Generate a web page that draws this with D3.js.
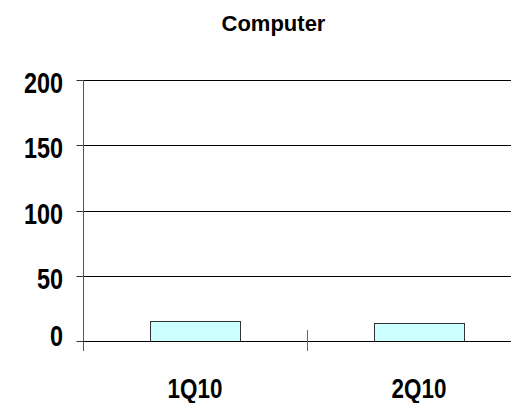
<!DOCTYPE html>
<html>
<head>
<meta charset="utf-8">
<script src="https://cdn.jsdelivr.net/npm/d3@7/dist/d3.min.js"></script>
<style>
  html, body { margin: 0; padding: 0; background: #fff; }
  svg { display: block; }
  text { font-family: "Liberation Sans", Arial, sans-serif; font-weight: bold; fill: #000; }
</style>
</head>
<body>
<svg id="chart" width="511" height="403"></svg>
<script>
const title = "Computer";
const categories = ["1Q10", "2Q10"];
const values = [15, 14];
const yTicks = [0, 50, 100, 150, 200];

(function () {
const svg = d3.select("#chart");
const W = 511;
const pLeft = 83, pRight = 531, pTop = 80, pBottom = 341;

const y = d3.scaleLinear().domain([0, 200]).range([pBottom, pTop]);
const x = d3.scaleBand().domain(categories).range([pLeft, pRight]).padding(0);
const barFrac = 0.4;

// title
svg.append("text")
  .attr("x", 273.5).attr("y", 31)
  .attr("text-anchor", "middle")
  .style("font-size", "22px")
  .text(title);

// gridlines
svg.append("g").selectAll("line").data(yTicks.filter(d => d !== 0)).join("line")
  .attr("x1", pLeft).attr("x2", W)
  .attr("y1", d => Math.round(y(d)) + 0.5).attr("y2", d => Math.round(y(d)) + 0.5)
  .attr("stroke", "#000").attr("stroke-width", 1);

// y axis
const yAxis = d3.axisLeft(y).tickValues(yTicks).tickSize(7).tickPadding(14);
const gy = svg.append("g").attr("transform", `translate(${pLeft + 0.5},0.5)`).call(yAxis);
gy.select(".domain").remove();
gy.selectAll(".tick line").attr("stroke", "#333");
gy.selectAll(".tick").attr("transform", d => `translate(0,${Math.round(y(d))})`);
gy.selectAll(".tick text")
  .style("font-size", "30px")
  .attr("x", null).attr("dy", null)
  .attr("transform", d => `translate(-20.5,${d === 0 ? 4 : 12.5}) scale(0.78,1)`);
// vertical axis line
svg.append("line")
  .attr("x1", pLeft + 0.5).attr("x2", pLeft + 0.5)
  .attr("y1", pTop).attr("y2", pBottom + 10)
  .attr("stroke", "#555");

// bars
svg.append("g").selectAll("rect").data(values).join("rect")
  .attr("x", (d, i) => Math.round(x(categories[i]) + x.bandwidth() * (1 - barFrac) / 2) + 0.5)
  .attr("width", Math.round(x.bandwidth() * barFrac))
  .attr("y", d => Math.round(y(d)) + 0.5)
  .attr("height", d => Math.round(y(0)) - Math.round(y(d)))
  .attr("fill", "#ccffff")
  .attr("stroke", "#333").attr("stroke-width", 1);

// x axis line
svg.append("line")
  .attr("x1", pLeft).attr("x2", W)
  .attr("y1", pBottom + 0.5).attr("y2", pBottom + 0.5)
  .attr("stroke", "#000").attr("stroke-width", 1.2);

// category boundary ticks
svg.append("g").selectAll("line").data(categories.slice(1)).join("line")
  .attr("x1", d => Math.round(x(d)) + 0.5).attr("x2", d => Math.round(x(d)) + 0.5)
  .attr("y1", pBottom - 11).attr("y2", pBottom + 10)
  .attr("stroke", "#666");

// category labels
svg.append("g").selectAll("text").data(categories).join("text")
  .attr("transform", d => `translate(${x(d) + x.bandwidth() / 2},397.5) scale(0.8,1)`)
  .attr("text-anchor", "middle")
  .style("font-size", "28px")
  .text(d => d);
})();
</script>
</body>
</html>
